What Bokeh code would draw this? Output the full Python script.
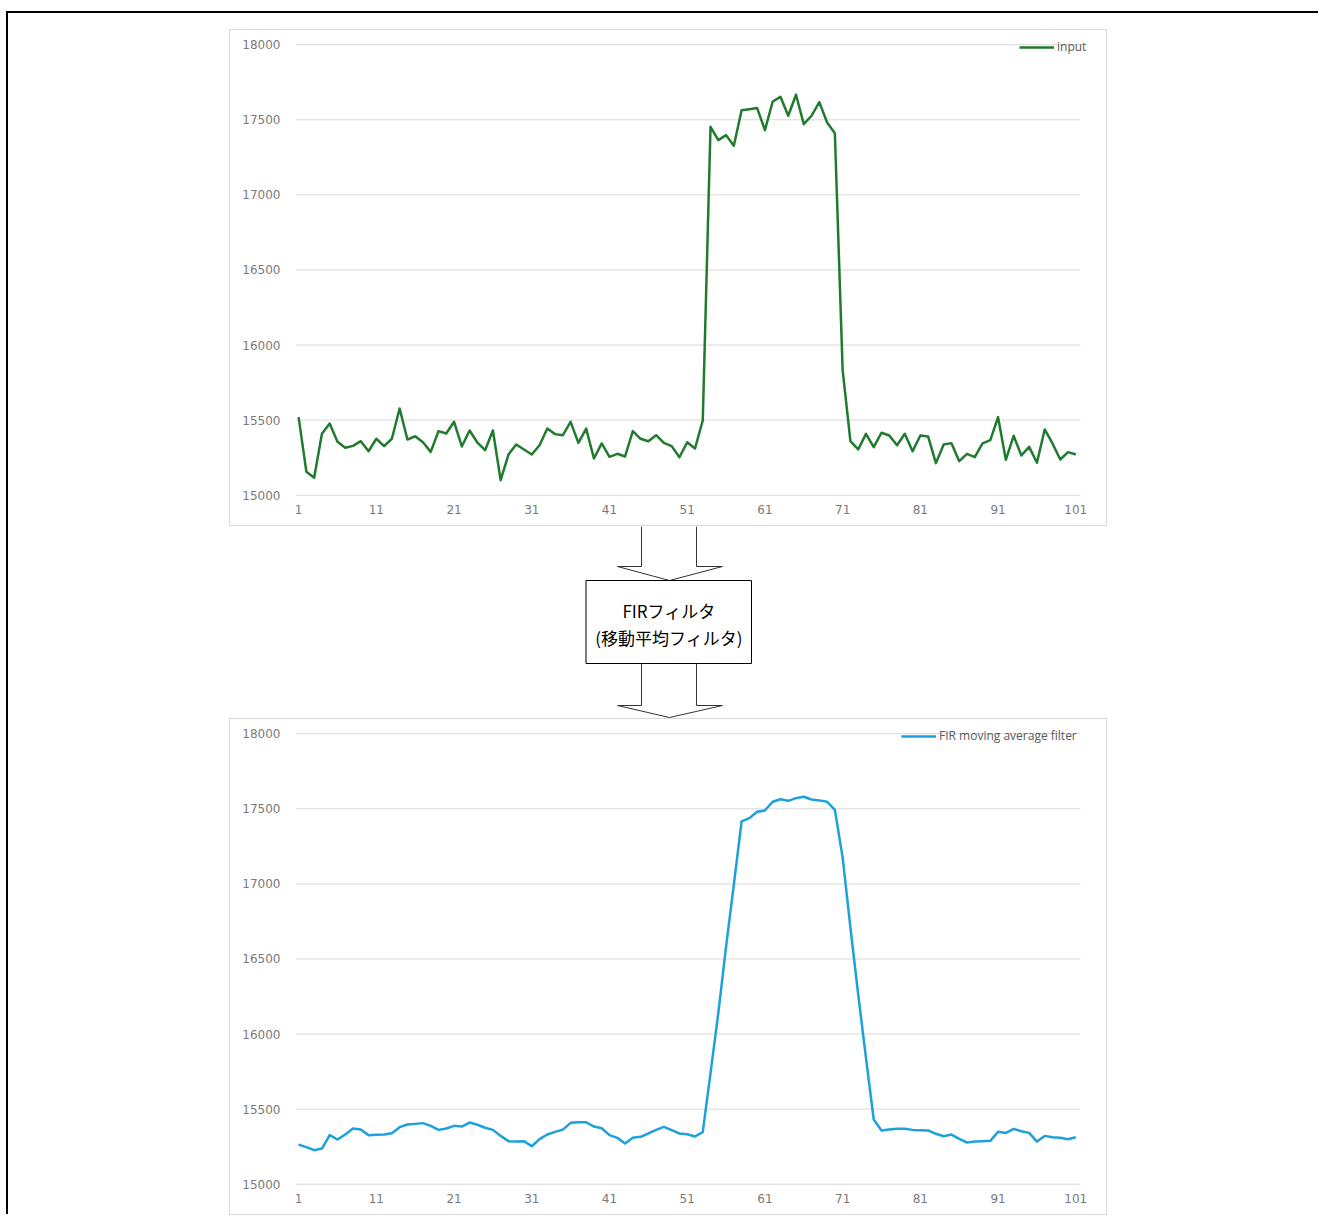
from bokeh.plotting import figure
from bokeh.layouts import column, row
from bokeh.models import (Range1d, FixedTicker, Legend, LegendItem, Spacer)
from bokeh.core.properties import value
from bokeh.embed import file_html
from bokeh.resources import INLINE

# ---------------- data ----------------
sample_index = list(range(1, 102))
x_ticks = list(range(1, 102, 10))
y_ticks = [15000, 15500, 16000, 16500, 17000, 17500, 18000]

input_values = [
    15520, 15156, 15116, 15409, 15478, 15356, 15316, 15329, 15360, 15293,
    15376, 15327, 15376, 15578, 15371, 15393, 15353, 15289, 15427, 15411,
    15489, 15325, 15431, 15351, 15300, 15431, 15100, 15271, 15338, 15305,
    15271, 15333, 15444, 15407, 15400, 15489, 15349, 15444, 15245, 15345,
    15256, 15276, 15258, 15427, 15376, 15360, 15400, 15349, 15327, 15253,
    15353, 15311, 15498, 17453, 17365, 17398, 17327, 17564, 17571, 17578,
    17431, 17622, 17653, 17527, 17667, 17471, 17527, 17618, 17482, 17411,
    15833, 15360, 15305, 15409, 15320, 15416, 15398, 15333, 15409, 15293,
    15398, 15391, 15214, 15338, 15347, 15227, 15276, 15254, 15345, 15367,
    15520, 15236, 15396, 15265, 15322, 15216, 15438, 15345, 15238, 15287,
    15271,
]

filtered_values = [
    15264, 15247, 15227, 15238, 15327, 15298, 15331, 15371, 15364, 15327,
    15329, 15331, 15340, 15380, 15398, 15402, 15407, 15389, 15362, 15371,
    15389, 15384, 15411, 15396, 15376, 15362, 15322, 15287, 15284, 15287,
    15253, 15300, 15331, 15349, 15364, 15409, 15413, 15413, 15384, 15373,
    15327, 15309, 15271, 15309, 15316, 15338, 15362, 15382, 15360, 15338,
    15333, 15318, 15347, 15740, 16140, 16580, 16995, 17416, 17438, 17480,
    17489, 17547, 17564, 17553, 17571, 17580, 17562, 17556, 17547, 17493,
    17176, 16709, 16264, 15842, 15431, 15358, 15364, 15369, 15369, 15362,
    15360, 15358, 15336, 15320, 15331, 15302, 15278, 15284, 15287, 15289,
    15349, 15342, 15369, 15353, 15342, 15284, 15322, 15313, 15309, 15300,
    15313,
]

series_labels = ["input", "FIR moving average filter"]
box_lines = ["FIRフィルタ", "(移動平均フィルタ)"]

GREEN = "#217B2F"
BLUE = "#1DA1DC"
GRID = "#D9D9D9"
LABEL = "#7A7A7A"

X_START, X_GRID_END, X_END = 0.6, 101.6, 104.95
Y_START, Y_END = 14985, 18068


def make_chart(values, color, label, legend_x, label_w):
    p = figure(width=876, height=495, output_backend="svg", toolbar_location=None,
               x_range=Range1d(X_START, X_END), y_range=Range1d(Y_START, Y_END),
               min_border_left=65, min_border_right=0, min_border_top=4,
               min_border_bottom=28,
               background_fill_color="white", border_fill_color="white",
               outline_line_color=None,
               styles={"box-shadow": "0 0 0 1px #D9D9D9"})
    # horizontal gridlines (end at the last category like the original)
    p.segment(x0=[X_START] * len(y_ticks), x1=[X_GRID_END] * len(y_ticks),
              y0=y_ticks, y1=y_ticks, line_color=GRID, line_width=1)
    r = p.line(sample_index, values, line_color=color, line_width=2.5,
               line_join="round")
    p.xgrid.grid_line_color = None
    p.ygrid.grid_line_color = None
    p.yaxis.ticker = FixedTicker(ticks=y_ticks)
    p.xaxis.ticker = FixedTicker(ticks=x_ticks)
    for ax in (p.xaxis[0], p.yaxis[0]):
        ax.axis_line_color = None
        ax.major_tick_line_color = None
        ax.minor_tick_line_color = None
        ax.major_tick_out = 0
        ax.major_tick_in = 0
        ax.minor_tick_out = 0
        ax.major_label_text_font = "DejaVu Sans"
        ax.major_label_text_font_size = "12px"
        ax.major_label_text_color = LABEL
    p.yaxis.major_label_standoff = 15
    p.xaxis.major_label_standoff = 7
    legend = Legend(items=[LegendItem(label=label, renderers=[r])],
                    location=(legend_x, 442), padding=0, margin=0, spacing=0,
                    glyph_width=35, glyph_height=14, label_height=14,
                    label_width=label_w, label_standoff=3,
                    border_line_color=None, background_fill_alpha=0,
                    label_text_font="Open Sans", label_text_font_size="12px",
                    label_text_color="#595959")
    p.add_layout(legend)
    return p


top = make_chart(input_values, GREEN, series_labels[0], 724, 34)
bottom = make_chart(filtered_values, BLUE, series_labels[1], 606, 152)

# ---------------- diagram between charts ----------------
mid = figure(width=878, height=192, output_backend="svg", toolbar_location=None,
             x_range=Range1d(0, 878), y_range=Range1d(192, 0),
             min_border=0, outline_line_color=None,
             background_fill_color="white", border_fill_color="white")
mid.axis.visible = False
mid.grid.visible = False

ARROW = "#333333"
# arrow 1 (open at top)
mid.line([412, 412, 388, 440, 493, 467, 467], [0, 40, 40, 54, 40, 40, 0],
         line_color=ARROW, line_width=1)
# box
mid.quad(left=[356.5], right=[522], top=[54], bottom=[137],
         fill_color="white", line_color="black", line_width=1)
mid.text(x=[439.5, 439.5], y=[84, 111], text=box_lines,
         text_font=value("Noto Sans CJK JP"), text_font_size="17px",
         text_color="black", text_align="center", text_baseline="middle")
# arrow 2
mid.line([412, 412, 388, 440, 493, 467, 467], [137, 179, 179, 191, 179, 179, 137],
         line_color=ARROW, line_width=1)

layout = column(
    Spacer(width=1310, height=17),
    row(Spacer(width=222, height=495), top),
    Spacer(width=10, height=1),
    row(Spacer(width=221, height=192), mid),
    Spacer(width=10, height=1),
    row(Spacer(width=222, height=495), bottom),
    margin=(11, 0, 0, 6),
    styles={"border-top": "2px solid black", "border-left": "2px solid black"},
)

open("out.html", "w").write(file_html(layout, INLINE))
